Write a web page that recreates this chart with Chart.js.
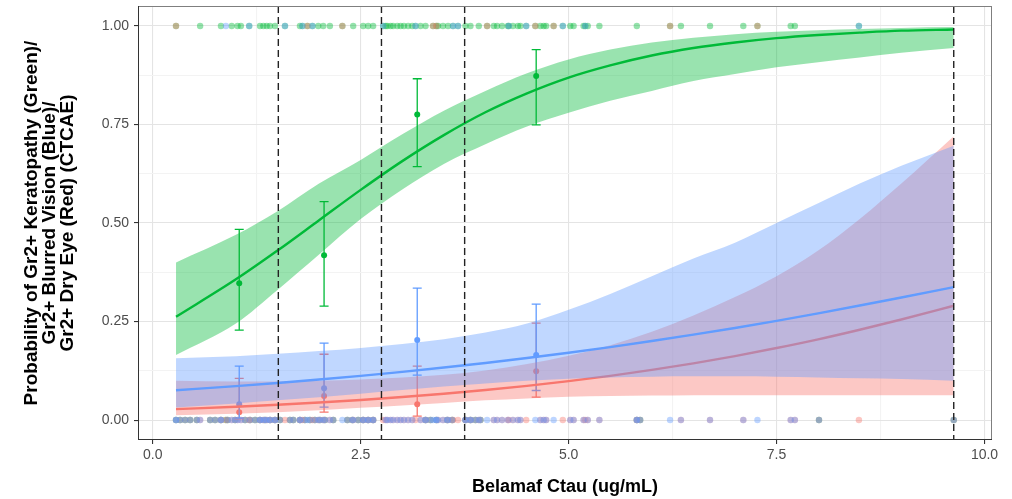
<!DOCTYPE html>
<html><head><meta charset="utf-8">
<script src="https://cdn.jsdelivr.net/npm/chart.js@4/dist/chart.umd.min.js"></script>
<style>html,body{margin:0;padding:0;background:#fff}</style>
</head><body>
<canvas id="c" width="1012" height="499"></canvas>
<script>
// ---------------- DATA ----------------
// Raw subject exposures (Ctau, ug/mL) grouped by which Gr2+ events occurred
const noEventX   = [0.28,0.33,0.39,0.45,0.53,0.69,0.75,0.82,0.90,0.99,1.11,1.17,1.23,1.29,1.35,1.41,1.47,1.53,1.65,1.69,1.77,1.83,1.89,1.95,2.01,2.07,2.17,2.34,2.40,2.47,2.53,2.59,2.65,3.28,3.34,3.41,3.54,3.60,3.76,3.82,3.88,3.94,5.82,5.86,8.01,9.63];
const keratOnlyX = [0.57,0.82,0.95,1.02,1.06,1.29,1.33,1.37,1.41,1.47,1.77,1.99,2.05,2.13,2.41,2.53,2.59,2.65,2.80,2.82,2.86,2.89,2.94,2.98,3.02,3.07,3.12,3.22,3.28,3.43,3.49,3.55,3.76,3.82,3.92,4.10,4.14,4.20,4.27,4.33,4.39,4.42,4.66,4.70,4.73,5.02,5.06,5.18,5.23,5.37,5.82,6.35,6.70,7.10,7.67,7.72];
const keratBlurX = [1.16,1.59,1.80,1.92,2.77,3.16,3.61,3.67,4.28,4.49,4.93,5.20,8.49];
const keratDryX  = [0.28,1.86,2.28,3.37,3.41,4.02,4.60,4.82,6.22,7.27];
const blurOnlyX  = [0.88];

// Model prediction grid and fitted probabilities with 95% CI
const gridX     = [0.28,1,1.5,2,2.5,3,3.5,4,4.5,5,5.5,6,6.5,7,7.5,8,8.5,9,9.63];
const keratFit  = [0.262,0.357,0.430,0.507,0.584,0.657,0.723,0.781,0.829,0.869,0.900,0.925,0.944,0.958,0.969,0.977,0.983,0.988,0.991];
const keratLow  = [0.165,0.245,0.330,0.420,0.510,0.585,0.650,0.700,0.745,0.780,0.810,0.835,0.860,0.878,0.895,0.908,0.920,0.932,0.944];
const keratHigh = [0.400,0.470,0.530,0.600,0.660,0.725,0.785,0.835,0.880,0.915,0.940,0.958,0.970,0.979,0.985,0.989,0.992,0.995,0.997];
const blurFit   = [0.0757,0.0861,0.0941,0.1028,0.1121,0.1223,0.1332,0.1449,0.1575,0.1709,0.1852,0.2005,0.2167,0.2337,0.2518,0.2708,0.2906,0.3111,0.3372];
const blurLow   = [0.032,0.042,0.050,0.058,0.067,0.076,0.085,0.093,0.100,0.105,0.108,0.110,0.111,0.111,0.110,0.108,0.106,0.104,0.100];
const blurHigh  = [0.157,0.162,0.168,0.175,0.183,0.193,0.205,0.222,0.245,0.280,0.320,0.365,0.410,0.450,0.500,0.550,0.600,0.645,0.696];
const dryFit    = [0.0277,0.0339,0.0389,0.0446,0.0510,0.0584,0.0667,0.0761,0.0868,0.0988,0.1122,0.1272,0.1439,0.1623,0.1827,0.2048,0.2292,0.2551,0.2900];
const dryLow    = [0.012,0.016,0.020,0.025,0.031,0.037,0.043,0.050,0.055,0.059,0.061,0.062,0.063,0.063,0.063,0.063,0.063,0.063,0.063];
const dryHigh   = [0.100,0.098,0.098,0.100,0.103,0.108,0.115,0.126,0.142,0.163,0.190,0.224,0.265,0.312,0.365,0.430,0.510,0.600,0.720];

// Observed proportions per exposure quartile with 95% CI
const binX      = [1.04,2.06,3.18,4.61];
const keratMean = [0.347,0.418,0.775,0.873];
const keratLo   = [0.228,0.289,0.643,0.749];
const keratHi   = [0.484,0.554,0.866,0.940];
const blurMean  = [0.040,0.081,0.203,0.165];
const blurLo    = [0.005,0.033,0.114,0.075];
const blurHi    = [0.137,0.195,0.335,0.294];
const dryMean   = [0.020,0.061,0.040,0.124];
const dryLo     = [0.004,0.020,0.010,0.058];
const dryHi     = [0.106,0.167,0.137,0.246];

// Quartile cut points / max exposure
const vlineX = [1.51,2.75,3.75,9.63];

// Axis ticks
const xTickVals = [0,1.25,2.5,3.75,5,6.25,7.5,8.75,10];
const xTickLabels = ['0.0','','2.5','','5.0','','7.5','','10.0'];
const yTickVals = [0,0.125,0.25,0.375,0.5,0.625,0.75,0.875,1];
const yTickLabels = ['0.00','','0.25','','0.50','','0.75','','1.00'];

// ---------------- STYLE ----------------
const GREEN = '#00BA38', BLUE = '#619CFF', RED = '#F8766D';
const FAMILY = '"Liberation Sans", Arial, Helvetica, sans-serif';
function rgba(hex, a) { const n = parseInt(hex.slice(1), 16); return `rgba(${n>>16},${(n>>8)&255},${n&255},${a})`; }
const at = (xs, y) => xs.map(x => ({x, y}));
const pts = (xs, ys) => xs.map((x, i) => ({x, y: ys[i]}));

const keratRaw = [...at(keratOnlyX,1), ...at(keratBlurX,1), ...at(keratDryX,1), ...at(noEventX,0), ...at(blurOnlyX,0)];
const blurRaw  = [...at(keratBlurX,1), ...at(blurOnlyX,1), ...at(noEventX,0), ...at(keratOnlyX,0), ...at(keratDryX,0)];
const dryRaw   = [...at(keratDryX,1), ...at(noEventX,0), ...at(keratOnlyX,0), ...at(keratBlurX,0), ...at(blurOnlyX,0)];

function rawSet(data, color, order, extra) {
  return Object.assign({data, order, showLine:false, pointRadius:3.2, pointHoverRadius:3.2,
    pointBackgroundColor: rgba(color,0.42), pointBorderWidth:0, pointBorderColor:'rgba(0,0,0,0)',
    borderColor:'rgba(0,0,0,0)', backgroundColor: rgba(color,0.42)}, extra || {});
}
function bandEdge(data, order) {
  return {data, order, borderWidth:0, pointRadius:0, fill:false, cubicInterpolationMode:'monotone', borderColor:'rgba(0,0,0,0)'};
}
function bandFill(data, order, target, color) {
  return {data, order, borderWidth:0, pointRadius:0, fill:{target}, backgroundColor: rgba(color,0.4),
    cubicInterpolationMode:'monotone', borderColor:'rgba(0,0,0,0)'};
}
function fitLine(data, order, color) {
  return {data, order, borderWidth:2.4, borderColor:color, pointRadius:0, fill:false, cubicInterpolationMode:'monotone'};
}

const datasets = [
  rawSet(keratRaw, GREEN, 100),                 // 0
  rawSet(dryRaw, RED, 99),                      // 1
  rawSet(blurRaw, BLUE, 98, {errBarsAfter:true}), // 2
  bandEdge(pts(gridX, dryLow), 90),             // 3
  bandFill(pts(gridX, dryHigh), 89, 3, RED),    // 4
  fitLine(pts(gridX, dryFit), 88, RED),         // 5
  bandEdge(pts(gridX, blurLow), 87),            // 6
  bandFill(pts(gridX, blurHigh), 86, 6, BLUE),  // 7
  fitLine(pts(gridX, blurFit), 85, BLUE),       // 8
  bandEdge(pts(gridX, keratLow), 84),           // 9
  bandFill(pts(gridX, keratHigh), 83, 9, GREEN),// 10
  fitLine(pts(gridX, keratFit), 82, GREEN)      // 11
];

const errorBars = {
  id: 'errorBars',
  afterDatasetDraw(chart, args) {
    const ds = chart.data.datasets[args.index];
    if (!ds.errBarsAfter) return;
    const {ctx, chartArea, scales: {x, y}} = chart;
    ctx.save();
    ctx.beginPath(); ctx.rect(chartArea.left, chartArea.top, chartArea.width, chartArea.height); ctx.clip();
    const series = [[dryMean, dryLo, dryHi, RED], [blurMean, blurLo, blurHi, BLUE], [keratMean, keratLo, keratHi, GREEN]];
    series.forEach(([m, lo, hi, col]) => {
      ctx.strokeStyle = col; ctx.fillStyle = col; ctx.lineWidth = 1.3;
      binX.forEach((bx, i) => {
        const px = x.getPixelForValue(bx);
        const yl = y.getPixelForValue(lo[i]), yh = y.getPixelForValue(hi[i]), ym = y.getPixelForValue(m[i]);
        ctx.beginPath();
        ctx.moveTo(px, yl); ctx.lineTo(px, yh);
        ctx.moveTo(px - 4.5, yl); ctx.lineTo(px + 4.5, yl);
        ctx.moveTo(px - 4.5, yh); ctx.lineTo(px + 4.5, yh);
        ctx.stroke();
        ctx.beginPath(); ctx.arc(px, ym, 3, 0, Math.PI * 2); ctx.fill();
      });
    });
    ctx.restore();
  }
};

const overlay = {
  id: 'overlay',
  afterDatasetsDraw(chart) {
    const {ctx, chartArea: a, scales: {x}} = chart;
    ctx.save();
    ctx.strokeStyle = '#222'; ctx.lineWidth = 1.4; ctx.setLineDash([7, 4]);
    vlineX.forEach(v => {
      const px = x.getPixelForValue(v);
      ctx.beginPath(); ctx.moveTo(px, a.top); ctx.lineTo(px, a.bottom); ctx.stroke();
    });
    ctx.setLineDash([]);
    ctx.lineWidth = 1;
    ctx.strokeStyle = '#7F7F7F';
    ctx.beginPath();
    ctx.moveTo(a.left, a.top + 0.5); ctx.lineTo(a.right, a.top + 0.5);
    ctx.moveTo(a.right - 0.5, a.top); ctx.lineTo(a.right - 0.5, a.bottom);
    ctx.stroke();
    ctx.strokeStyle = '#333';
    ctx.beginPath();
    ctx.moveTo(a.left + 0.5, a.top); ctx.lineTo(a.left + 0.5, a.bottom);
    ctx.moveTo(a.left, a.bottom - 0.5); ctx.lineTo(a.right, a.bottom - 0.5);
    ctx.stroke();
    ctx.restore();
  }
};

const isMajor = (vals, labels, v) => { const i = vals.findIndex(t => Math.abs(t - v) < 1e-9); return i >= 0 && labels[i] !== ''; };
const labelFor = (vals, labels, v) => { const i = vals.findIndex(t => Math.abs(t - v) < 1e-9); return i >= 0 ? labels[i] : ''; };

new Chart(document.getElementById('c'), {
  type: 'line',
  data: {datasets},
  plugins: [errorBars, overlay],
  options: {
    responsive: false,
    devicePixelRatio: 1,
    animation: false,
    events: [],
    layout: {padding: {left: 0, right: 20, top: 6, bottom: 0}},
    plugins: {legend: {display: false}, tooltip: {enabled: false}, filler: {drawTime: 'beforeDatasetDraw'}},
    scales: {
      x: {
        type: 'linear', min: -0.177, max: 10.09,
        afterBuildTicks: s => { s.ticks = xTickVals.map(v => ({value: v})); },
        afterFit: s => { s.height = 59; s.paddingLeft = 0; s.paddingRight = 0; },
        border: {display: false},
        grid: {
          color: c => (c.tick && isMajor(xTickVals, xTickLabels, c.tick.value)) ? '#E4E4E4' : '#F3F3F3',
          lineWidth: 1.1, drawTicks: true, tickLength: 4,
          tickColor: c => (c.tick && isMajor(xTickVals, xTickLabels, c.tick.value)) ? '#333' : 'rgba(0,0,0,0)'
        },
        ticks: {autoSkip: false, maxRotation: 0, padding: 3, color: '#4D4D4D', font: {family: FAMILY, size: 14},
          callback: v => labelFor(xTickVals, xTickLabels, v)},
        title: {display: true, text: 'Belamaf Ctau (ug/mL)', color: '#000',
          font: {family: FAMILY, size: 18, weight: 'bold', lineHeight: '20px'}, padding: {top: 0, bottom: 2}}
      },
      y: {
        type: 'linear', min: -0.0506, max: 1.0506,
        afterBuildTicks: s => { s.ticks = yTickVals.map(v => ({value: v})); },
        afterFit: s => { s.width = 138; s.paddingTop = 0; s.paddingBottom = 0; },
        border: {display: false},
        grid: {
          color: c => (c.tick && isMajor(yTickVals, yTickLabels, c.tick.value)) ? '#E4E4E4' : '#F3F3F3',
          lineWidth: 1.1, drawTicks: true, tickLength: 4,
          tickColor: c => (c.tick && isMajor(yTickVals, yTickLabels, c.tick.value)) ? '#333' : 'rgba(0,0,0,0)'
        },
        ticks: {autoSkip: false, padding: 5, color: '#4D4D4D', font: {family: FAMILY, size: 14},
          callback: v => labelFor(yTickVals, yTickLabels, v)},
        title: {display: true,
          text: ['Probability of Gr2+ Keratopathy (Green)/', 'Gr2+ Blurred Vision (Blue)/', 'Gr2+ Dry Eye (Red) (CTCAE)'],
          color: '#000', font: {family: FAMILY, size: 19, weight: 'bold', lineHeight: '18px'}, padding: {top: 23, bottom: 0}}
      }
    }
  }
});
</script>
</body></html>
